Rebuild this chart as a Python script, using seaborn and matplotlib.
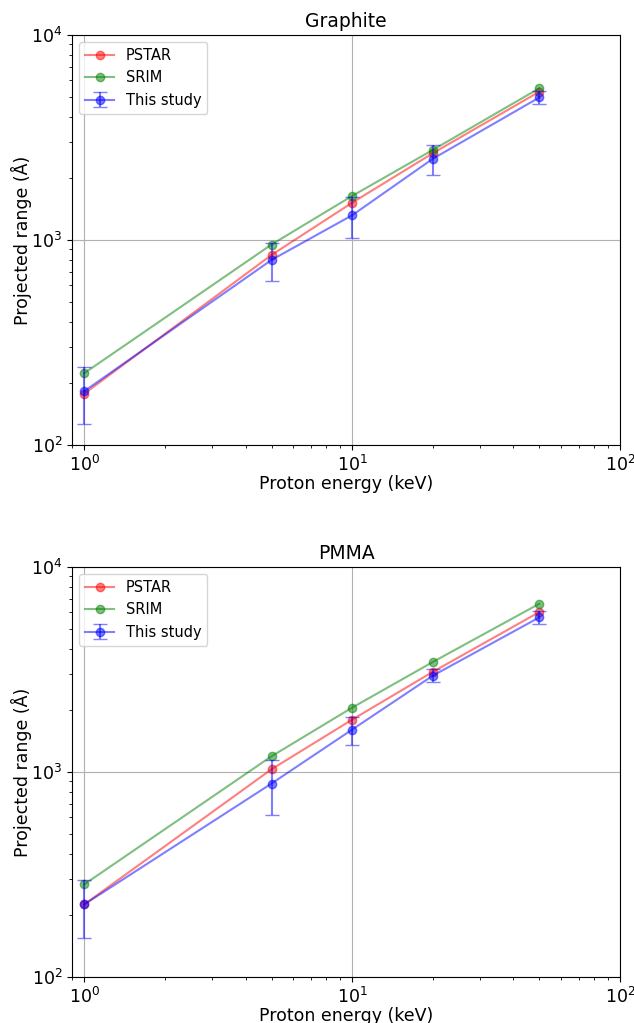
import matplotlib
matplotlib.use("Agg")
import matplotlib.pyplot as plt
import seaborn as sns

# proton energies (keV)
energy = [1, 5, 10, 20, 50]

# Graphite projected range (Angstrom)
graphite_pstar = [178, 845, 1520, 2650, 5290]
graphite_srim = [224, 950, 1640, 2750, 5500]
graphite_study = [183, 799, 1320, 2490, 4960]
graphite_err = [57, 170, 300, 420, 370]

# PMMA projected range (Angstrom)
pmma_pstar = [226, 1031, 1800, 3080, 6030]
pmma_srim = [283, 1193, 2060, 3440, 6620]
pmma_study = [226, 878, 1610, 2950, 5680]
pmma_err = [71, 262, 250, 215, 400]

plt.rcParams["font.family"] = ["DejaVu Sans"]
plt.rcParams["font.size"] = 12.5


def draw(ax, title, pstar, srim, study, err):
    sns.lineplot(x=energy, y=pstar, color="red", marker="o", mec="red",
                 mew=1, alpha=0.5, label="PSTAR", ax=ax)
    sns.lineplot(x=energy, y=srim, color="green", marker="o", mec="green",
                 mew=1, alpha=0.5, label="SRIM", ax=ax)
    ax.errorbar(energy, study, yerr=err, fmt="o-", color="blue", alpha=0.5,
                capsize=5, label="This study")
    ax.set_xscale("log")
    ax.set_yscale("log")
    ax.set_xlim(0.9, 100)
    ax.set_ylim(100, 10000)
    ax.grid(True)
    ax.set_title(title, fontsize=13.5)
    ax.set_xlabel("Proton energy (keV)", labelpad=0)
    ax.set_ylabel("Projected range (Å)", labelpad=-1)
    ax.legend(loc="upper left", fontsize=10.5)


fig, axes = plt.subplots(2, 1, figsize=(6.34, 10.23), dpi=100)
draw(axes[0], "Graphite", graphite_pstar, graphite_srim, graphite_study, graphite_err)
draw(axes[1], "PMMA", pmma_pstar, pmma_srim, pmma_study, pmma_err)

fig.subplots_adjust(left=0.1136, right=0.978, top=0.9658, bottom=0.045, hspace=0.2976)
fig.savefig("out.png", dpi=100)
